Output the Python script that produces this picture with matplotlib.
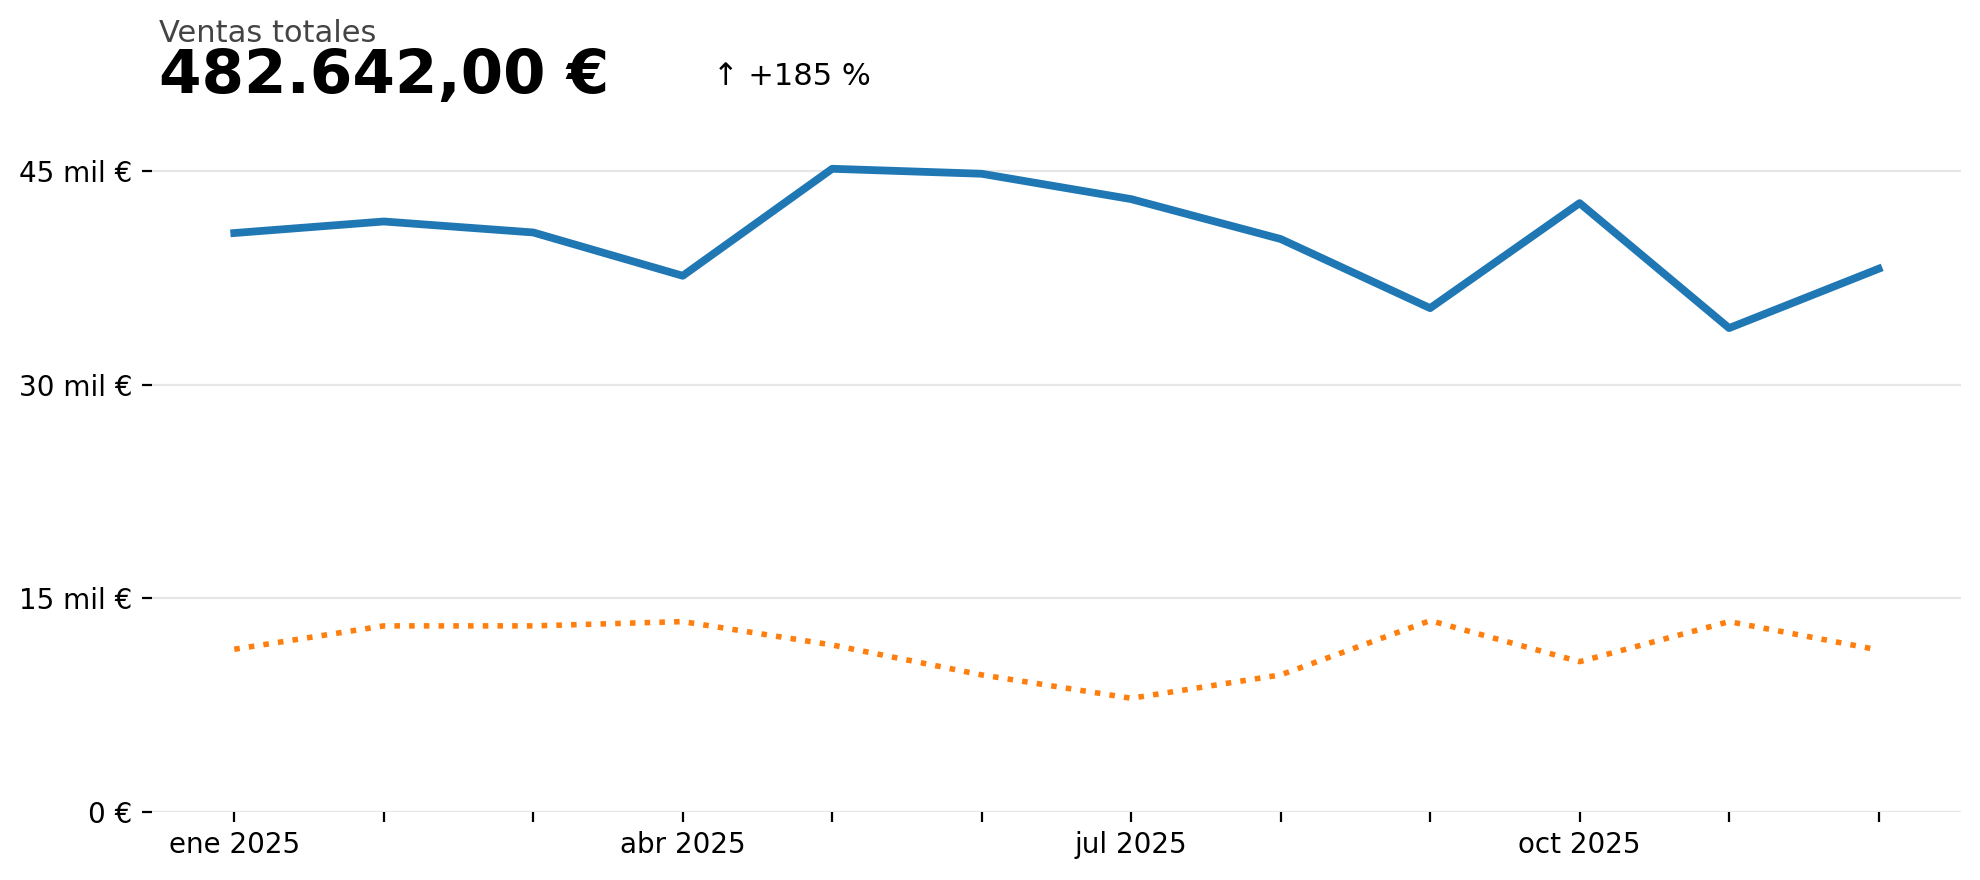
import matplotlib
matplotlib.use("Agg")
import matplotlib.pyplot as plt
from matplotlib.ticker import FuncFormatter, FixedLocator
import numpy as np

# ---- data ----
months = ["2025-01", "2025-02", "2025-03", "2025-04", "2025-05", "2025-06",
          "2025-07", "2025-08", "2025-09", "2025-10", "2025-11", "2025-12"]
ventas = [40630, 41440, 40670, 37630, 45140, 44790, 43010, 40210, 35360, 42730, 33960, 38120]
comparacion = [11420, 13060, 13060, 13360, 11720, 9620, 7980, 9620, 13430, 10550, 13360, 11370]
month_labels = ["ene 2025", "", "", "abr 2025", "", "", "jul 2025", "", "", "oct 2025", "", ""]
y_ticks = [0, 15000, 30000, 45000]
title_small = "Ventas totales"
title_big = "482.642,00 €"
delta_text = "↑ +185 %"

x = np.arange(len(months))

plt.rcParams['font.family'] = ['DejaVu Sans']
fig = plt.figure(figsize=(9.9, 4.4), dpi=200)
ax = fig.add_axes([0.0768, 0.0773, 0.9135, 0.761])

ax.plot(x, ventas, color="#1f77b4", lw=2.8)
ax.plot(x, comparacion, color="#ff7f0e", lw=2.0, linestyle=":")

ax.set_ylim(bottom=0)
ax.yaxis.set_major_locator(FixedLocator(y_ticks))

def fmt(v, pos):
    if v == 0:
        return "0 €"
    return f"{int(round(v / 1000))} mil €"

ax.yaxis.set_major_formatter(FuncFormatter(fmt))
ax.set_xticks(x)
ax.set_xticklabels(month_labels)
ax.tick_params(axis="both", labelsize=10, colors="black")
ax.grid(axis="y", color="#e6e6e6", lw=0.8)
ax.set_axisbelow(True)
for s in ax.spines.values():
    s.set_visible(False)

fig.text(0.0805, 0.952, title_small, fontsize=11, color="#444444", ha="left", va="baseline")
fig.text(0.0805, 0.894, title_big, fontsize=22, fontweight="bold", color="black", ha="left", va="baseline")
fig.text(0.3600, 0.903, delta_text, fontsize=11, color="black", ha="left", va="baseline")

fig.savefig("out.png", dpi=200)
